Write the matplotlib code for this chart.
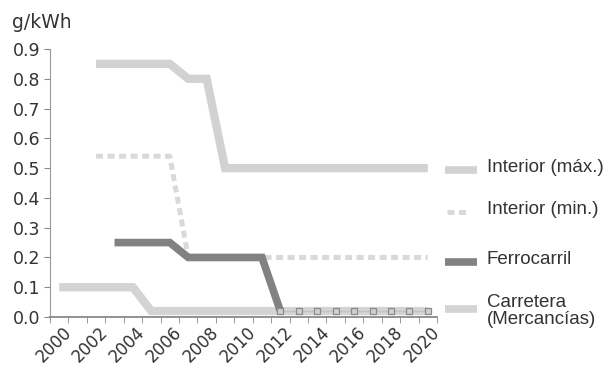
import numpy as np
import matplotlib
matplotlib.use("Agg")
import matplotlib.pyplot as plt
from matplotlib.lines import Line2D
from matplotlib.transforms import ScaledTranslation

nan = np.nan

# emisiones por modo de transporte, g/kWh
years = list(range(2000, 2021))
interior_max = [nan, nan, 0.85, 0.85, 0.85, 0.85, 0.85, 0.80, 0.80,
                0.5, 0.5, 0.5, 0.5, 0.5, 0.5, 0.5, 0.5, 0.5, 0.5, 0.5, 0.5]
interior_min = [nan, nan, 0.54, 0.54, 0.54, 0.54, 0.54, 0.2, 0.2,
                0.2, 0.2, 0.2, 0.2, 0.2, 0.2, 0.2, 0.2, 0.2, 0.2, 0.2, 0.2]
ferrocarril = [nan, nan, nan, 0.25, 0.25, 0.25, 0.25, 0.2, 0.2,
               0.2, 0.2, 0.2, 0.02, 0.02, 0.02, 0.02, 0.02, 0.02, 0.02, 0.02, 0.02]
carretera = [0.1, 0.1, 0.1, 0.1, 0.1, 0.02, 0.02, 0.02, 0.02,
             0.02, 0.02, 0.02, 0.02, 0.02, 0.02, 0.02, 0.02, 0.02, 0.02, 0.02, 0.02]
labels = ["Interior (máx.)", "Interior (min.)", "Ferrocarril", "Carretera\n(Mercancías)"]

c_max = "#d2d2d2"
c_min = "#d9d9d9"
c_fer = "#828282"
c_car = "#d4d4d4"

yrs = np.array(years)
fer = np.array(ferrocarril)

fig = plt.figure(figsize=(6.09, 3.67), dpi=100)
ax = fig.add_axes([0.0821, 0.1362, 0.6355, 0.7303])

ax.plot(yrs, interior_max, color=c_max, lw=6, solid_joinstyle="miter", solid_capstyle="butt")
ax.plot(yrs, interior_min, color=c_min, lw=3.6, dashes=(1.4, 0.9), dash_capstyle="butt")
ax.plot(yrs, carretera, color=c_car, lw=6, solid_joinstyle="miter", solid_capstyle="butt")
# tramo grueso hasta 2012, luego solo marcadores
m = yrs <= 2012
ax.plot(yrs[m], fer[m], color=c_fer, lw=5.5, solid_joinstyle="miter", solid_capstyle="butt")
m2 = yrs >= 2012
ax.plot(yrs[m2], fer[m2], color="#c4c4c4", lw=1, marker="s", ms=4.5,
        mfc="#d0d0d0", mec="#8a8a8a", mew=0.9)

ax.set_xlim(1999.5, 2020.5)
ax.set_ylim(0, 0.9)
ax.set_yticks(np.arange(0, 0.91, 0.1))
ax.set_yticklabels(["%.1f" % v for v in np.arange(0, 0.91, 0.1)])
ax.set_xticks(years[::2])
ax.set_xticklabels([str(y) for y in years[::2]], rotation=45, ha="right",
                   va="center", rotation_mode="anchor")
ax.set_xticks(np.arange(1999.5, 2021, 1), minor=True)
ax.tick_params(axis="x", which="major", length=0, pad=0, labelsize=12, labelcolor="#333333")
ax.tick_params(axis="x", which="minor", length=4, color="#888888", direction="out")
ax.tick_params(axis="y", length=4, color="#888888", pad=3, labelsize=12.5, labelcolor="#333333")
off = ScaledTranslation(0.095, -0.125, fig.dpi_scale_trans)
for lab in ax.get_xticklabels():
    lab.set_transform(lab.get_transform() + off)

for s in ["top", "right"]:
    ax.spines[s].set_visible(False)
ax.spines["left"].set_color("#999999")
ax.spines["bottom"].set_color("#888888")
ax.spines["bottom"].set_linewidth(1.3)

fig.text(12 / 609, 1 - 22 / 367, "g/kWh", fontsize=13.5, color="#333333", va="center", ha="left")

# leyenda a mano
W, H = 609.0, 367.0
rows = [(170, labels[0], dict(color=c_max, lw=5.5)),
        (212, labels[1], dict(color=c_min, lw=3.6, dashes=(1.4, 0.9))),
        (262, labels[2], dict(color=c_fer, lw=5.5)),
        (309, labels[3], dict(color=c_car, lw=5.5))]
for y, txt, st in rows:
    x1 = 447 if txt == labels[1] else 445
    x2 = 469 if txt == labels[1] else 477
    fig.add_artist(Line2D([x1 / W, x2 / W], [1 - y / H, 1 - y / H], transform=fig.transFigure,
                          solid_capstyle="butt", **st))
    ty = y - 2 if txt != labels[3] else 311
    fig.text(487 / W, 1 - ty / H, txt, fontsize=13.5, family="Liberation Sans",
             color="#333333", va="center", ha="left", linespacing=1.0)

fig.savefig("out.png", dpi=100)
